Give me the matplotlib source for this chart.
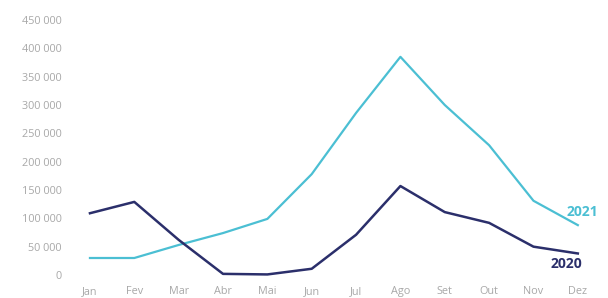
import matplotlib
matplotlib.use('Agg')
import matplotlib.pyplot as plt
import numpy as np

months = ['Jan', 'Fev', 'Mar', 'Abr', 'Mai', 'Jun', 'Jul', 'Ago', 'Set', 'Out', 'Nov', 'Dez']
y2020 = [109000, 129000, 62000, 2000, 1000, 11000, 71000, 157000, 111000, 92000, 50000, 38000]
y2021 = [30000, 30000, 53000, 74000, 99000, 178000, 286000, 385000, 300000, 229000, 131000, 88000]
yticks = np.arange(0, 450001, 50000)

c2020 = '#2b2f6b'
c2021 = '#4bbfd3'
grey = '#a8a8a8'

plt.rcParams['font.family'] = ['Open Sans', 'DejaVu Sans']

fig = plt.figure(figsize=(6.08, 2.98), dpi=100)
ax = fig.add_axes([70/608, 23/298, 530/608, 255/298])
x = np.arange(len(months))

ax.plot(x, y2021, color=c2021, lw=1.6, clip_on=False)
ax.plot(x, y2020, color=c2020, lw=1.8, clip_on=False)

# year labels at the line ends
ax.text(11.45, 112000, '2021', color=c2021, fontsize=10, fontweight='bold', ha='right', va='center')
ax.text(11.1, 20000, '2020', color=c2020, fontsize=10, fontweight='bold', ha='right', va='center')

ax.set_xlim(-0.45, 11.5)
ax.set_ylim(0, 450000)
ax.set_xticks(x)
ax.set_xticklabels(months)
ax.set_yticks(yticks)
ax.set_yticklabels(['0' if v == 0 else '{:,}'.format(v).replace(',', ' ') for v in yticks])
ax.tick_params(length=0, colors=grey, labelsize=7.8)
ax.tick_params(axis='y', pad=6)
ax.tick_params(axis='x', pad=8)
for s in ax.spines.values():
    s.set_visible(False)

fig.savefig('out.png', dpi=100, facecolor='white')
